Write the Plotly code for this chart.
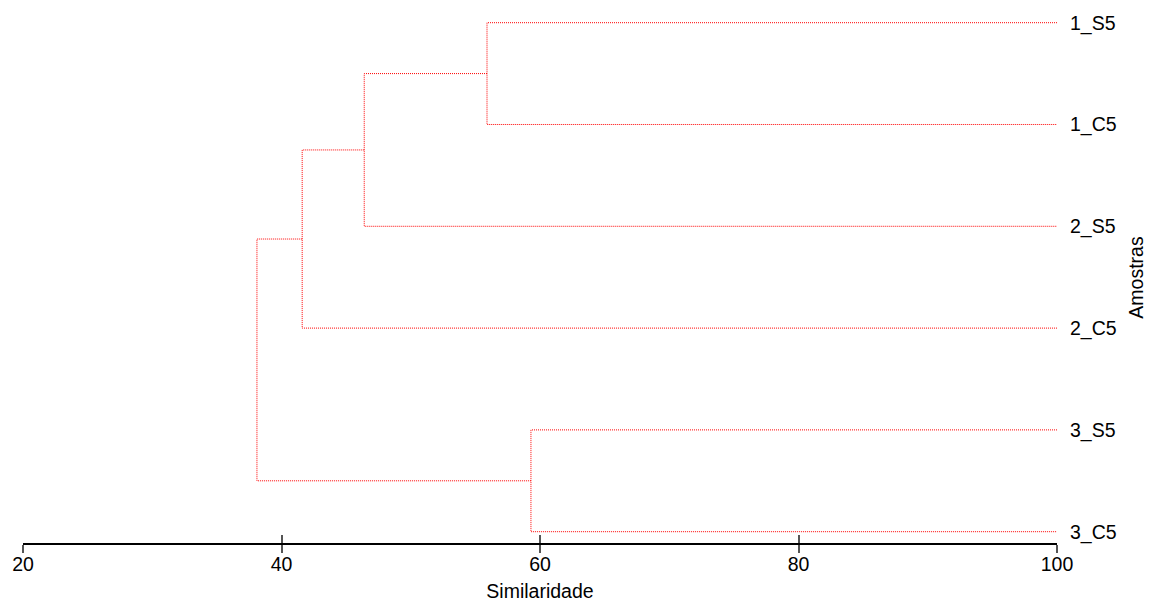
import plotly.graph_objects as go

# Samples, top to bottom
leaves = ["1_S5", "1_C5", "2_S5", "2_C5", "3_S5", "3_C5"]

# Agglomeration steps: (member A, member B, similarity at joining)
# "cN" refers to the cluster created by step N
merge_a = ["1_S5", "c0", "c1", "3_S5", "c2"]
merge_b = ["1_C5", "2_S5", "2_C5", "3_C5", "c3"]
merge_sim = [55.9, 46.4, 41.6, 59.3, 38.1]

x_ticks = [20, 40, 60, 80, 100]
leaf_sim = 100

# Build the dendrogram branches (elbow shapes) from the merge table
nodes = {name: (leaf_sim, i) for i, name in enumerate(leaves)}
xs, ys = [], []
for k, (a, b, h) in enumerate(zip(merge_a, merge_b, merge_sim)):
    xa, ya = nodes[a]
    xb, yb = nodes[b]
    xs += [xa, h, h, xb, None]
    ys += [ya, ya, yb, yb, None]
    nodes[f"c{k}"] = (h, (ya + yb) / 2)

font_family = "Liberation Sans, Arial, sans-serif"
font_size = 19.5

fig = go.Figure()
fig.add_trace(go.Scatter(
    x=xs, y=ys, mode="lines",
    line=dict(color="#ff0000", width=1, dash="1px,1px"),
    hoverinfo="skip", showlegend=False, cliponaxis=False,
))

fig.update_layout(
    width=1155, height=605,
    margin=dict(l=23, r=98, t=12, b=62),
    paper_bgcolor="white", plot_bgcolor="white",
    font=dict(family=font_family, size=font_size, color="black"),
    xaxis=dict(
        range=[20, 100], tickvals=x_ticks, ticktext=[str(v) for v in x_ticks],
        ticks="outside", ticklen=8, tickwidth=1.5, tickcolor="#555",
        ticklabelstandoff=-5,
        showline=True, linecolor="black", linewidth=1.5,
        showgrid=False, zeroline=False, automargin=False,
        title=dict(text="Similaridade", standoff=10,
                   font=dict(family=font_family, size=font_size)),
        tickfont=dict(family=font_family, size=font_size),
    ),
    xaxis2=dict(
        range=[20, 100], overlaying="x", anchor="y", side="bottom",
        tickvals=x_ticks, showticklabels=False,
        ticks="inside", ticklen=8, tickwidth=1.5, tickcolor="#555",
        showline=False, showgrid=False, zeroline=False, automargin=False,
    ),
    yaxis=dict(
        range=[5.111, -0.105], side="right",
        tickvals=list(range(len(leaves))), ticktext=leaves,
        ticks="", showline=False, showgrid=False, zeroline=False,
        ticklabelstandoff=12, automargin=False,
        tickfont=dict(family=font_family, size=font_size),
        title=dict(text="Amostras", standoff=13,
                   font=dict(family=font_family, size=font_size)),
    ),
)
# Invisible trace so the overlay axis with upward ticks is drawn
fig.add_trace(go.Scatter(x=[None], y=[None], xaxis="x2", yaxis="y",
                         showlegend=False, hoverinfo="skip"))

fig.write_html("out.html")
